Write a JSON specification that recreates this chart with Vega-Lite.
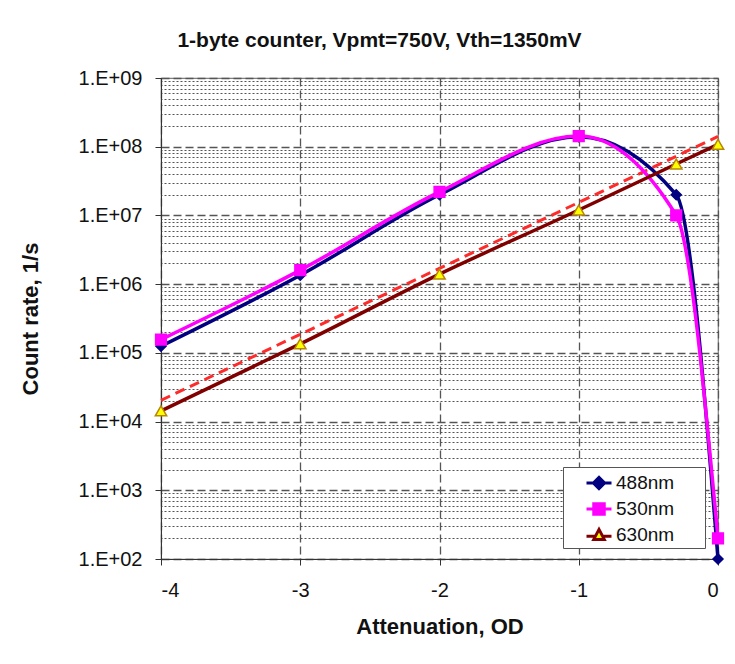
{
  "$schema": "https://vega.github.io/schema/vega-lite/v6.json",
  "width": 557,
  "height": 481,
  "autosize": {"type": "none"},
  "padding": {"left": 161, "top": 78, "right": 17, "bottom": 105},
  "background": "white",
  "title": {"text": "1-byte counter, Vpmt=750V, Vth=1350mV", "fontSize": 21, "font": "Liberation Sans", "fontWeight": "bold", "color": "#111", "offset": 17, "dx": -60},
  "config": {
    "font": "Liberation Sans",
    "view": {"stroke": "#808080", "strokeWidth": 1.2},
    "axis": {"labelFont": "Liberation Sans", "titleFont": "Liberation Sans", "labelColor": "#111", "titleColor": "#111"}
  },
  "datasets": {
    "counts": [
      {"series": "488nm", "od": -4, "rate": 125000},
      {"series": "488nm", "od": -3, "rate": 1350000},
      {"series": "488nm", "od": -2, "rate": 20000000},
      {"series": "488nm", "od": -1, "rate": 140000000},
      {"series": "488nm", "od": -0.3, "rate": 20000000},
      {"series": "488nm", "od": 0, "rate": 100},
      {"series": "530nm", "od": -4, "rate": 156000},
      {"series": "530nm", "od": -3, "rate": 1600000},
      {"series": "530nm", "od": -2, "rate": 22000000},
      {"series": "530nm", "od": -1, "rate": 143000000},
      {"series": "530nm", "od": -0.3, "rate": 10000000},
      {"series": "530nm", "od": 0, "rate": 200},
      {"series": "630nm", "od": -4, "rate": 14300},
      {"series": "630nm", "od": -3, "rate": 135000},
      {"series": "630nm", "od": -2, "rate": 1400000},
      {"series": "630nm", "od": -1, "rate": 12000000},
      {"series": "630nm", "od": -0.3, "rate": 56000000},
      {"series": "630nm", "od": 0, "rate": 108000000}
    ],
    "fit": [
      {"od": -4, "rate": 20400},
      {"od": 0, "rate": 141000000}
    ]
  },
  "layer": [
    {
      "data": {"name": "fit"},
      "mark": {"type": "line", "color": "#ff2a2a", "strokeWidth": 3, "strokeDash": [10, 6]},
      "encoding": {
        "x": {"field": "od", "type": "quantitative", "scale": {"domain": [-4, 0], "nice": false, "zero": false},
          "axis": {"values": [-4, -3, -2, -1, 0], "labelExpr": "'' + datum.value", "labelFontSize": 20, "labelPadding": 15, "tickSize": 6, "tickColor": "#333", "domainColor": "#333", "grid": true, "gridDash": [8, 4], "gridColor": "#555", "gridWidth": 1.3, "title": "Attenuation, OD", "titleFontSize": 22, "titleFontWeight": "bold", "titlePadding": 16}},
        "y": {"field": "rate", "type": "quantitative", "scale": {"type": "log", "domain": [100, 1000000000], "nice": false}, "axis": null}
      }
    },
    {
      "data": {"name": "counts"},
      "mark": {"type": "line", "interpolate": "monotone", "strokeWidth": 3.5},
      "encoding": {
        "x": {"field": "od", "type": "quantitative", "scale": {"domain": [-4, 0], "nice": false, "zero": false},
          "axis": {"values": [-4, -3, -2, -1, 0], "labelExpr": "'' + datum.value", "labelFontSize": 20, "labelPadding": 15, "tickSize": 6, "tickColor": "#333", "domainColor": "#333", "grid": true, "gridDash": [8, 4], "gridColor": "#555", "gridWidth": 1.3, "title": "Attenuation, OD", "titleFontSize": 22, "titleFontWeight": "bold", "titlePadding": 16}},
        "y": {"field": "rate", "type": "quantitative", "scale": {"type": "log", "domain": [100, 1000000000], "nice": false},
          "axis": {"values": [100, 1000, 10000, 100000, 1000000, 10000000, 100000000, 1000000000], "labelExpr": "'1.E+0' + round(log(datum.value) / LN10)", "labelFontSize": 20, "labelPadding": 13, "tickSize": 6, "tickColor": "#333", "domainColor": "#333", "grid": true, "gridColor": "#555", "gridDash": [8, 4], "gridWidth": 1.3, "title": "Count rate, 1/s", "titleFontSize": 22, "titleFontWeight": "bold", "titlePadding": 36}},
        "stroke": {"field": "series", "type": "nominal", "scale": {"domain": ["488nm", "530nm", "630nm"], "range": ["#000080", "#ff00ff", "#800000"]}, "legend": null}
      }
    },
    {
      "data": {"name": "counts"},
      "mark": {"type": "point", "filled": true, "strokeWidth": 1.5, "opacity": 1},
      "encoding": {
        "x": {"field": "od", "type": "quantitative", "scale": {"domain": [-4, 0], "nice": false, "zero": false},
          "axis": {"values": [-4, -3, -2, -1, 0], "labelExpr": "'' + datum.value", "labelFontSize": 20, "labelPadding": 15, "tickSize": 6, "tickColor": "#333", "domainColor": "#333", "grid": true, "gridDash": [8, 4], "gridColor": "#555", "gridWidth": 1.3, "title": "Attenuation, OD", "titleFontSize": 22, "titleFontWeight": "bold", "titlePadding": 16}},
        "y": {"field": "rate", "type": "quantitative", "scale": {"type": "log", "domain": [100, 1000000000], "nice": false},
          "axis": {"orient": "right", "values": [200, 300, 400, 500, 600, 700, 800, 900, 2000, 3000, 4000, 5000, 6000, 7000, 8000, 9000, 20000, 30000, 40000, 50000, 60000, 70000, 80000, 90000, 200000, 300000, 400000, 500000, 600000, 700000, 800000, 900000, 2000000, 3000000, 4000000, 5000000, 6000000, 7000000, 8000000, 9000000, 20000000, 30000000, 40000000, 50000000, 60000000, 70000000, 80000000, 90000000, 200000000, 300000000, 400000000, 500000000, 600000000, 700000000, 800000000, 900000000], "labels": false, "ticks": false, "domain": false, "grid": true, "gridColor": "#555", "gridDash": [2, 2], "gridWidth": 1, "title": null}},
        "shape": {"field": "series", "type": "nominal", "scale": {"domain": ["488nm", "530nm", "630nm"], "range": ["diamond", "square", "triangle-up"]}, "legend": null},
        "fill": {"field": "series", "type": "nominal", "scale": {"domain": ["488nm", "530nm", "630nm"], "range": ["#000080", "#ff00ff", "#ffff00"]}, "legend": null},
        "stroke": {"field": "series", "type": "nominal", "scale": {"domain": ["488nm", "530nm", "630nm"], "range": ["#000080", "#ff00ff", "#b8860b"]}, "legend": null},
        "size": {"field": "series", "type": "nominal", "scale": {"domain": ["488nm", "530nm", "630nm"], "range": [100, 130, 170]}, "legend": null}
      }
    },
    {
      "data": {"name": "counts"},
      "mark": {"type": "point", "filled": true, "opacity": 0},
      "encoding": {
        "x": {"field": "od", "type": "quantitative", "scale": {"domain": [-4, 0], "nice": false, "zero": false},
          "axis": {"values": [-4, -3, -2, -1, 0], "labelExpr": "'' + datum.value", "labelFontSize": 20, "labelPadding": 15, "tickSize": 6, "tickColor": "#333", "domainColor": "#333", "grid": true, "gridDash": [8, 4], "gridColor": "#555", "gridWidth": 1.3, "title": "Attenuation, OD", "titleFontSize": 22, "titleFontWeight": "bold", "titlePadding": 16}},
        "y": {"field": "rate", "type": "quantitative", "scale": {"type": "log", "domain": [100, 1000000000], "nice": false}, "axis": null},
        "shape": {"field": "series", "type": "nominal", "scale": {"domain": ["488nm", "530nm", "630nm"], "range": ["M-1,0L1,0M-0.45,0L0,-0.45L0.45,0L0,0.45Z", "M-1,0L1,0M-0.42,-0.42L0.42,-0.42L0.42,0.42L-0.42,0.42Z", "M-1,0.1L-0.33,0.1M0.33,0.1L1,0.1M0,-0.45L0.42,0.35L-0.42,0.35Z"]},
          "legend": {"orient": "none", "legendX": 402, "legendY": 389, "title": null, "symbolSize": 625, "symbolStrokeWidth": 3, "symbolOpacity": 1, "labelFontSize": 19, "labelFont": "Liberation Sans", "labelColor": "#111", "padding": 2, "symbolOffset": 20, "strokeColor": "#555", "fillColor": "white", "rowPadding": 0, "labelOffset": 3, "labelExpr": "datum.label + '\u2800\u2800'"}},
        "fill": {"field": "series", "type": "nominal", "scale": {"domain": ["488nm", "530nm", "630nm"], "range": ["#000080", "#ff00ff", "#ffff00"]},
          "legend": {"orient": "none", "legendX": 402, "legendY": 389, "title": null, "symbolSize": 625, "symbolStrokeWidth": 3, "symbolOpacity": 1, "labelFontSize": 19, "labelFont": "Liberation Sans", "labelColor": "#111", "padding": 2, "symbolOffset": 20, "strokeColor": "#555", "fillColor": "white", "rowPadding": 0, "labelOffset": 3, "labelExpr": "datum.label + '\u2800\u2800'"}},
        "stroke": {"field": "series", "type": "nominal", "scale": {"domain": ["488nm", "530nm", "630nm"], "range": ["#000080", "#ff00ff", "#800000"]},
          "legend": {"orient": "none", "legendX": 402, "legendY": 389, "title": null, "symbolSize": 625, "symbolStrokeWidth": 3, "symbolOpacity": 1, "labelFontSize": 19, "labelFont": "Liberation Sans", "labelColor": "#111", "padding": 2, "symbolOffset": 20, "strokeColor": "#555", "fillColor": "white", "rowPadding": 0, "labelOffset": 3, "labelExpr": "datum.label + '\u2800\u2800'"}}
      }
    }
  ],
  "resolve": {
    "scale": {"shape": "independent", "fill": "independent", "stroke": "independent", "size": "independent"},
    "axis": {"y": "independent"}
  }
}
